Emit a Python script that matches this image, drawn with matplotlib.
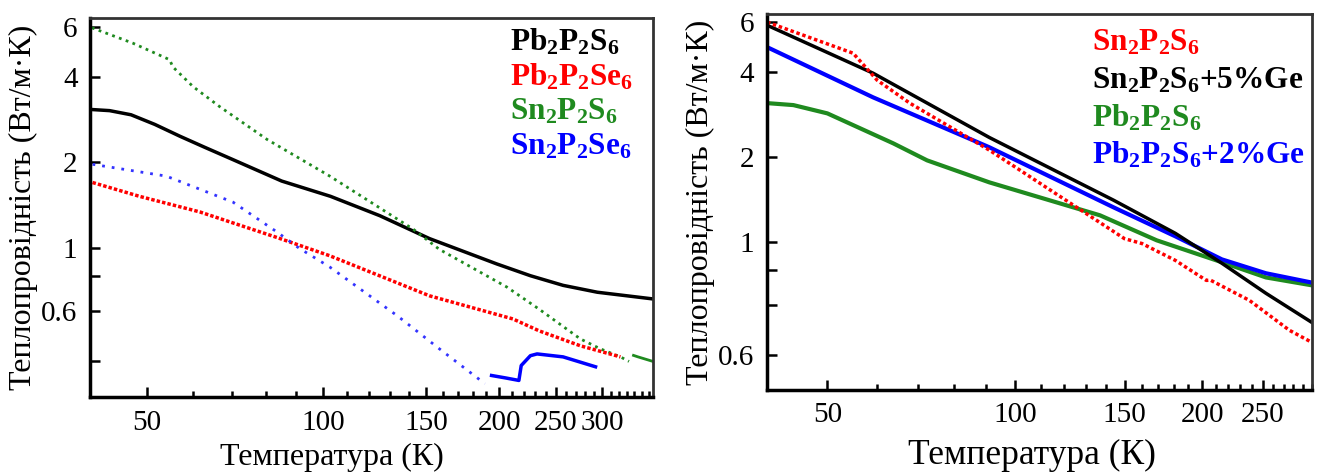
import numpy as np
import matplotlib
matplotlib.use('Agg')
import matplotlib.pyplot as plt
from matplotlib.ticker import FixedLocator, FixedFormatter, NullFormatter

plt.rcParams['font.family'] = ['Liberation Serif', 'DejaVu Serif']
plt.rcParams['mathtext.fontset'] = 'custom'
plt.rcParams['mathtext.rm'] = 'Liberation Serif:bold'
plt.rcParams['mathtext.it'] = 'Liberation Serif:bold'
plt.rcParams['mathtext.bf'] = 'Liberation Serif:bold'

# ліва панель
pb2p2s6_T = [40, 43.2, 47, 51.6, 57, 62.8, 70, 85, 103, 125, 152, 198, 226, 257, 294, 366]
pb2p2s6_k = [3.07, 3.04, 2.94, 2.72, 2.47, 2.26, 2.05, 1.72, 1.52, 1.30, 1.08, 0.88, 0.80, 0.74, 0.70, 0.663]

sn2p2s6_T = [40.3, 47.3, 54.7, 55.4, 60, 66.6, 80.2, 102.7, 142.6, 158, 206, 234, 275, 297.5, 322, 333]
sn2p2s6_k = [5.94, 5.25, 4.59, 4.33, 3.69, 3.14, 2.41, 1.79, 1.165, 0.99, 0.73, 0.61, 0.48, 0.443, 0.415, 0.40]
sn2p2s6_T2 = [339, 345, 366]
sn2p2s6_k2 = [0.42, 0.415, 0.40]

pb2p2se6_T = [40.4, 48.6, 61.6, 83.4, 102.7, 152, 211, 234, 275, 322]
pb2p2se6_k = [1.70, 1.52, 1.34, 1.09, 0.94, 0.68, 0.564, 0.512, 0.454, 0.415]

sn2p2se6_T = [40.4, 54, 70.2, 83.4, 91, 102.7, 134, 158, 189]
sn2p2se6_k = [1.97, 1.79, 1.45, 1.14, 1.0, 0.858, 0.578, 0.443, 0.334]
sn2p2se6_T2 = [194, 205, 216, 218, 226, 232, 257, 292]
sn2p2se6_k2 = [0.357, 0.35, 0.343, 0.387, 0.419, 0.425, 0.415, 0.383]

# права панель
r_sn_T = [40, 55, 60.1, 67.8, 91, 150, 160, 181, 203, 206, 238, 276, 300]
r_sn_k = [6.02, 4.67, 3.75, 3.11, 2.12, 1.03, 0.99, 0.863, 0.733, 0.735, 0.623, 0.488, 0.442]

r_snge_T = [40, 59.2, 91, 144, 181, 215, 253, 300]
r_snge_k = [5.87, 3.97, 2.35, 1.41, 1.076, 0.843, 0.66, 0.52]

r_pb_T = [40, 44.1, 50, 56.5, 63.8, 72.3, 91, 137, 169, 215, 253, 300]
r_pb_k = [3.11, 3.06, 2.86, 2.53, 2.24, 1.95, 1.63, 1.246, 1.016, 0.85, 0.751, 0.704]

r_pbge_T = [40, 59.2, 91, 144, 181, 215, 253, 300]
r_pbge_k = [4.91, 3.26, 2.17, 1.33, 1.05, 0.87, 0.777, 0.72]

xt_left = [50, 100, 150, 200, 250, 300]
xt_right = [50, 100, 150, 200, 250]
yt = [0.4, 0.6, 0.8, 1, 2, 4, 6]
yl_left = ['', '0.6', '', '1', '2', '4', '6']
yl_right = ['0.6', '', '', '1', '2', '4', '6']

ylab = 'Теплопровідність (Вт/м·К)'
xlab = 'Температура (К)'

fig = plt.figure(figsize=(13.23, 4.76), dpi=100)
ax1 = fig.add_axes([90/1323, 1-397/476, 563/1323, 379/476])
ax2 = fig.add_axes([767/1323, 1-390/476, 545/1323, 376/476])

dots = (0, (1, 1.6))
ax1.plot(pb2p2s6_T, pb2p2s6_k, color='black', lw=2.5)
ax1.plot(sn2p2s6_T, sn2p2s6_k, color='#1f8a1f', lw=2, ls=dots)
ax1.plot(sn2p2s6_T2, sn2p2s6_k2, color='#1f8a1f', lw=2)
ax1.plot(pb2p2se6_T, pb2p2se6_k, color='red', lw=2.5, ls=(0, (1, 0.6)))
ax1.plot(sn2p2se6_T, sn2p2se6_k, color='#3333ff', lw=2, ls=(0, (1, 2.5)))
ax1.plot(sn2p2se6_T2, sn2p2se6_k2, color='blue', lw=2.5)

ax2.plot(r_pb_T, r_pb_k, color='#1f8a1f', lw=3)
ax2.plot(r_pbge_T, r_pbge_k, color='blue', lw=3)
ax2.plot(r_snge_T, r_snge_k, color='black', lw=2.5)
ax2.plot(r_sn_T, r_sn_k, color='red', lw=2.5, ls=(0, (1, 0.8)))

for ax, xl, xt, yls in [(ax1, 366, xt_left, yl_left), (ax2, 300, xt_right, yl_right)]:
    ax.set_xscale('log')
    ax.set_yscale('log')
    ax.set_xlim(40, xl)
    ax.set_ylim(0.3, 6.43)
    ax.xaxis.set_major_locator(FixedLocator(xt))
    ax.xaxis.set_major_formatter(FixedFormatter([str(v) for v in xt]))
    ax.xaxis.set_minor_locator(FixedLocator([v for v in range(40, int(xl) + 1, 10) if v not in xt]))
    ax.xaxis.set_minor_formatter(NullFormatter())
    ax.yaxis.set_major_locator(FixedLocator(yt))
    ax.yaxis.set_major_formatter(FixedFormatter(yls))
    ax.yaxis.set_minor_locator(FixedLocator([]))
    ax.tick_params(which='both', direction='in', top=False, right=False,
                   labelsize=21, width=1.8, pad=9)
    ax.tick_params(which='major', length=7)
    ax.tick_params(which='minor', length=4)
    for s in ['left', 'bottom']:
        ax.spines[s].set_linewidth(2.5)
    for s in ['top', 'right']:
        ax.spines[s].set_linewidth(2)
        ax.spines[s].set_color('#333333')

ax1.set_ylabel(ylab, fontsize=23, labelpad=2)
ax1.set_xlabel(xlab, fontsize=23)
ax1.xaxis.set_label_coords((332-90)/563, -0.122)
ax2.set_ylabel(ylab, fontsize=23, labelpad=2)
ax2.set_xlabel(xlab, fontsize=25.5)
ax2.xaxis.set_label_coords((1032-767)/545, -0.13)

left_leg = [(r'Pb$_2$P$_2$S$_6$', 'black'), (r'Pb$_2$P$_2$Se$_6$', 'red'),
            (r'Sn$_2$P$_2$S$_6$', '#1f8a1f'), (r'Sn$_2$P$_2$Se$_6$', 'blue')]
for i, (t, c) in enumerate(left_leg):
    fig.text(510/1323, 1-(42+35*i)/476, t, color=c, fontsize=22.5, fontweight='bold', va='center')

right_leg = [(r'Sn$_2$P$_2$S$_6$', 'red'), (r'Sn$_2$P$_2$S$_6$+5%Ge', 'black'),
             (r'Pb$_2$P$_2$S$_6$', '#1f8a1f'), (r'Pb$_2$P$_2$S$_6$+2%Ge', 'blue')]
for i, (t, c) in enumerate(right_leg):
    fig.text(1092/1323, 1-(43+37.5*i)/476, t, color=c, fontsize=22.5, fontweight='bold', va='center')

fig.savefig('out.png', dpi=100)
